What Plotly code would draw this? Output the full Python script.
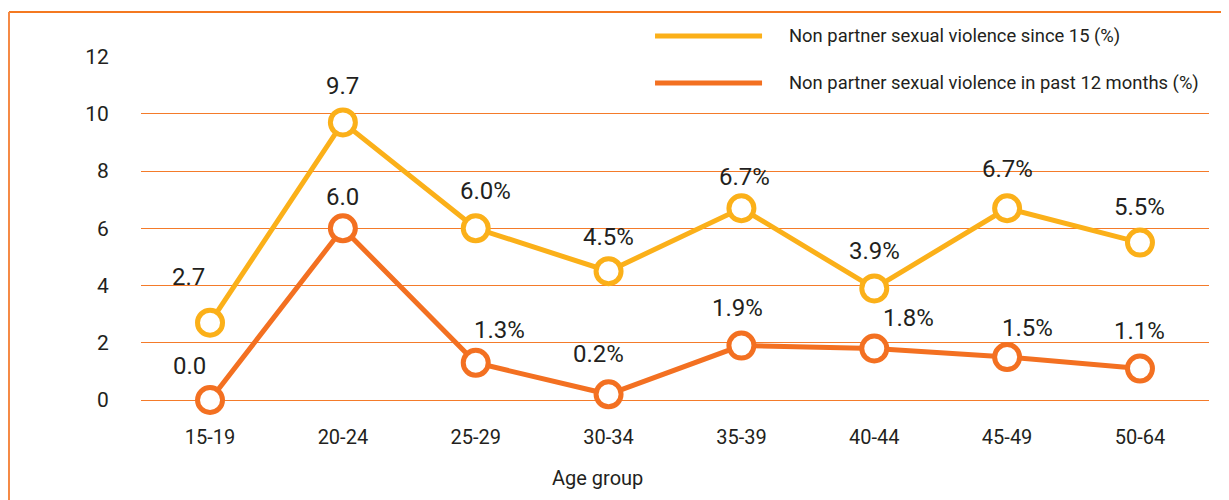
import plotly.graph_objects as go

age_groups = ["15-19", "20-24", "25-29", "30-34", "35-39", "40-44", "45-49", "50-64"]
since_15 = [2.7, 9.7, 6.0, 4.5, 6.7, 3.9, 6.7, 5.5]
past_12 = [0.0, 6.0, 1.3, 0.2, 1.9, 1.8, 1.5, 1.1]
since_15_labels = ["2.7", "9.7", "6.0%", "4.5%", "6.7%", "3.9%", "6.7%", "5.5%"]
past_12_labels = ["0.0", "6.0", "1.3%", "0.2%", "1.9%", "1.8%", "1.5%", "1.1%"]
series_names = [
    "Non partner sexual violence since 15 (%)",
    "Non partner sexual violence in past 12 months (%)",
]

# label nudges (px) so the value text sits where the original put it
since_15_shift = [(-22, 46), (0, 36), (10, 37), (0, 34), (3, 31), (0, 37), (0, 39), (0, 36)]
past_12_shift = [(-21, 34), (0, 31), (24, 33), (-10, 40), (-4, 38), (34, 30), (20, 29), (0, 38)]

YELLOW = "#FBB019"
ORANGE = "#F37021"
GRID = "#F47B2A"
TEXT = "#231F20"
FONT = "Roboto, Lato, sans-serif"

fig = go.Figure()
for name, vals, color in [
    (series_names[0], since_15, YELLOW),
    (series_names[1], past_12, ORANGE),
]:
    fig.add_trace(
        go.Scatter(
            x=age_groups,
            y=vals,
            name=name,
            mode="lines+markers",
            line=dict(color=color, width=5),
            marker=dict(size=25, color="white", line=dict(color=color, width=5)),
            cliponaxis=False,
            showlegend=False,
        )
    )

annotations = []
for vals, labels, shifts in [
    (since_15, since_15_labels, since_15_shift),
    (past_12, past_12_labels, past_12_shift),
]:
    for cat, v, lab, (dx, dy) in zip(age_groups, vals, labels, shifts):
        annotations.append(
            dict(
                x=cat, y=v, text=lab, showarrow=False,
                xshift=dx, yshift=dy,
                font=dict(family=FONT, size=24, color=TEXT),
            )
        )

# hand-drawn legend (long line samples like the original)
shapes = []
for name, color, yp in [
    (series_names[0], YELLOW, 1.058),
    (series_names[1], ORANGE, 0.9215),
]:
    shapes.append(
        dict(type="line", xref="paper", yref="paper",
             x0=0.4813, x1=0.5815, y0=yp, y1=yp,
             line=dict(color=color, width=5))
    )
    annotations.append(
        dict(x=0.6049, y=yp, xref="paper", yref="paper", text=name,
             showarrow=False, xanchor="left", yanchor="middle",
             font=dict(family=FONT, size=18.4, color=TEXT))
    )

annotations.append(
    dict(x=0.427, y=-0.227, xref="paper", yref="paper", text="Age group",
         showarrow=False, xanchor="center", yanchor="middle",
         font=dict(family=FONT, size=20, color=TEXT))
)

# orange frame (top and left edges)
shapes.append(dict(type="line", xref="paper", yref="paper",
                   x0=-0.1236, x1=1.05, y0=1.128, y1=1.128,
                   line=dict(color="#F47920", width=2)))
shapes.append(dict(type="line", xref="paper", yref="paper",
                   x0=-0.1236, x1=-0.1236, y0=1.128, y1=-0.4,
                   line=dict(color="#F58A45", width=2)))

fig.update_layout(
    width=1221,
    height=492,
    margin=dict(l=133, r=20, t=48, b=100),
    paper_bgcolor="white",
    plot_bgcolor="white",
    font=dict(family=FONT, color=TEXT),
    annotations=annotations,
    shapes=shapes,
    xaxis=dict(
        type="category",
        showgrid=False,
        zeroline=False,
        showline=False,
        ticks="outside",
        ticklen=19,
        tickcolor="rgba(0,0,0,0)",
        tickfont=dict(family=FONT, size=20, color=TEXT),
    ),
    yaxis=dict(
        range=[0, 12.02],
        tickvals=[0, 2, 4, 6, 8, 10, 12],
        showgrid=True,
        gridcolor=GRID,
        gridwidth=1,
        zeroline=True,
        zerolinecolor=GRID,
        zerolinewidth=1,
        showline=False,
        ticks="outside",
        ticklen=27,
        tickcolor="rgba(0,0,0,0)",
        tickfont=dict(family=FONT, size=21, color=TEXT),
    ),
)

fig.write_html("out.html")
